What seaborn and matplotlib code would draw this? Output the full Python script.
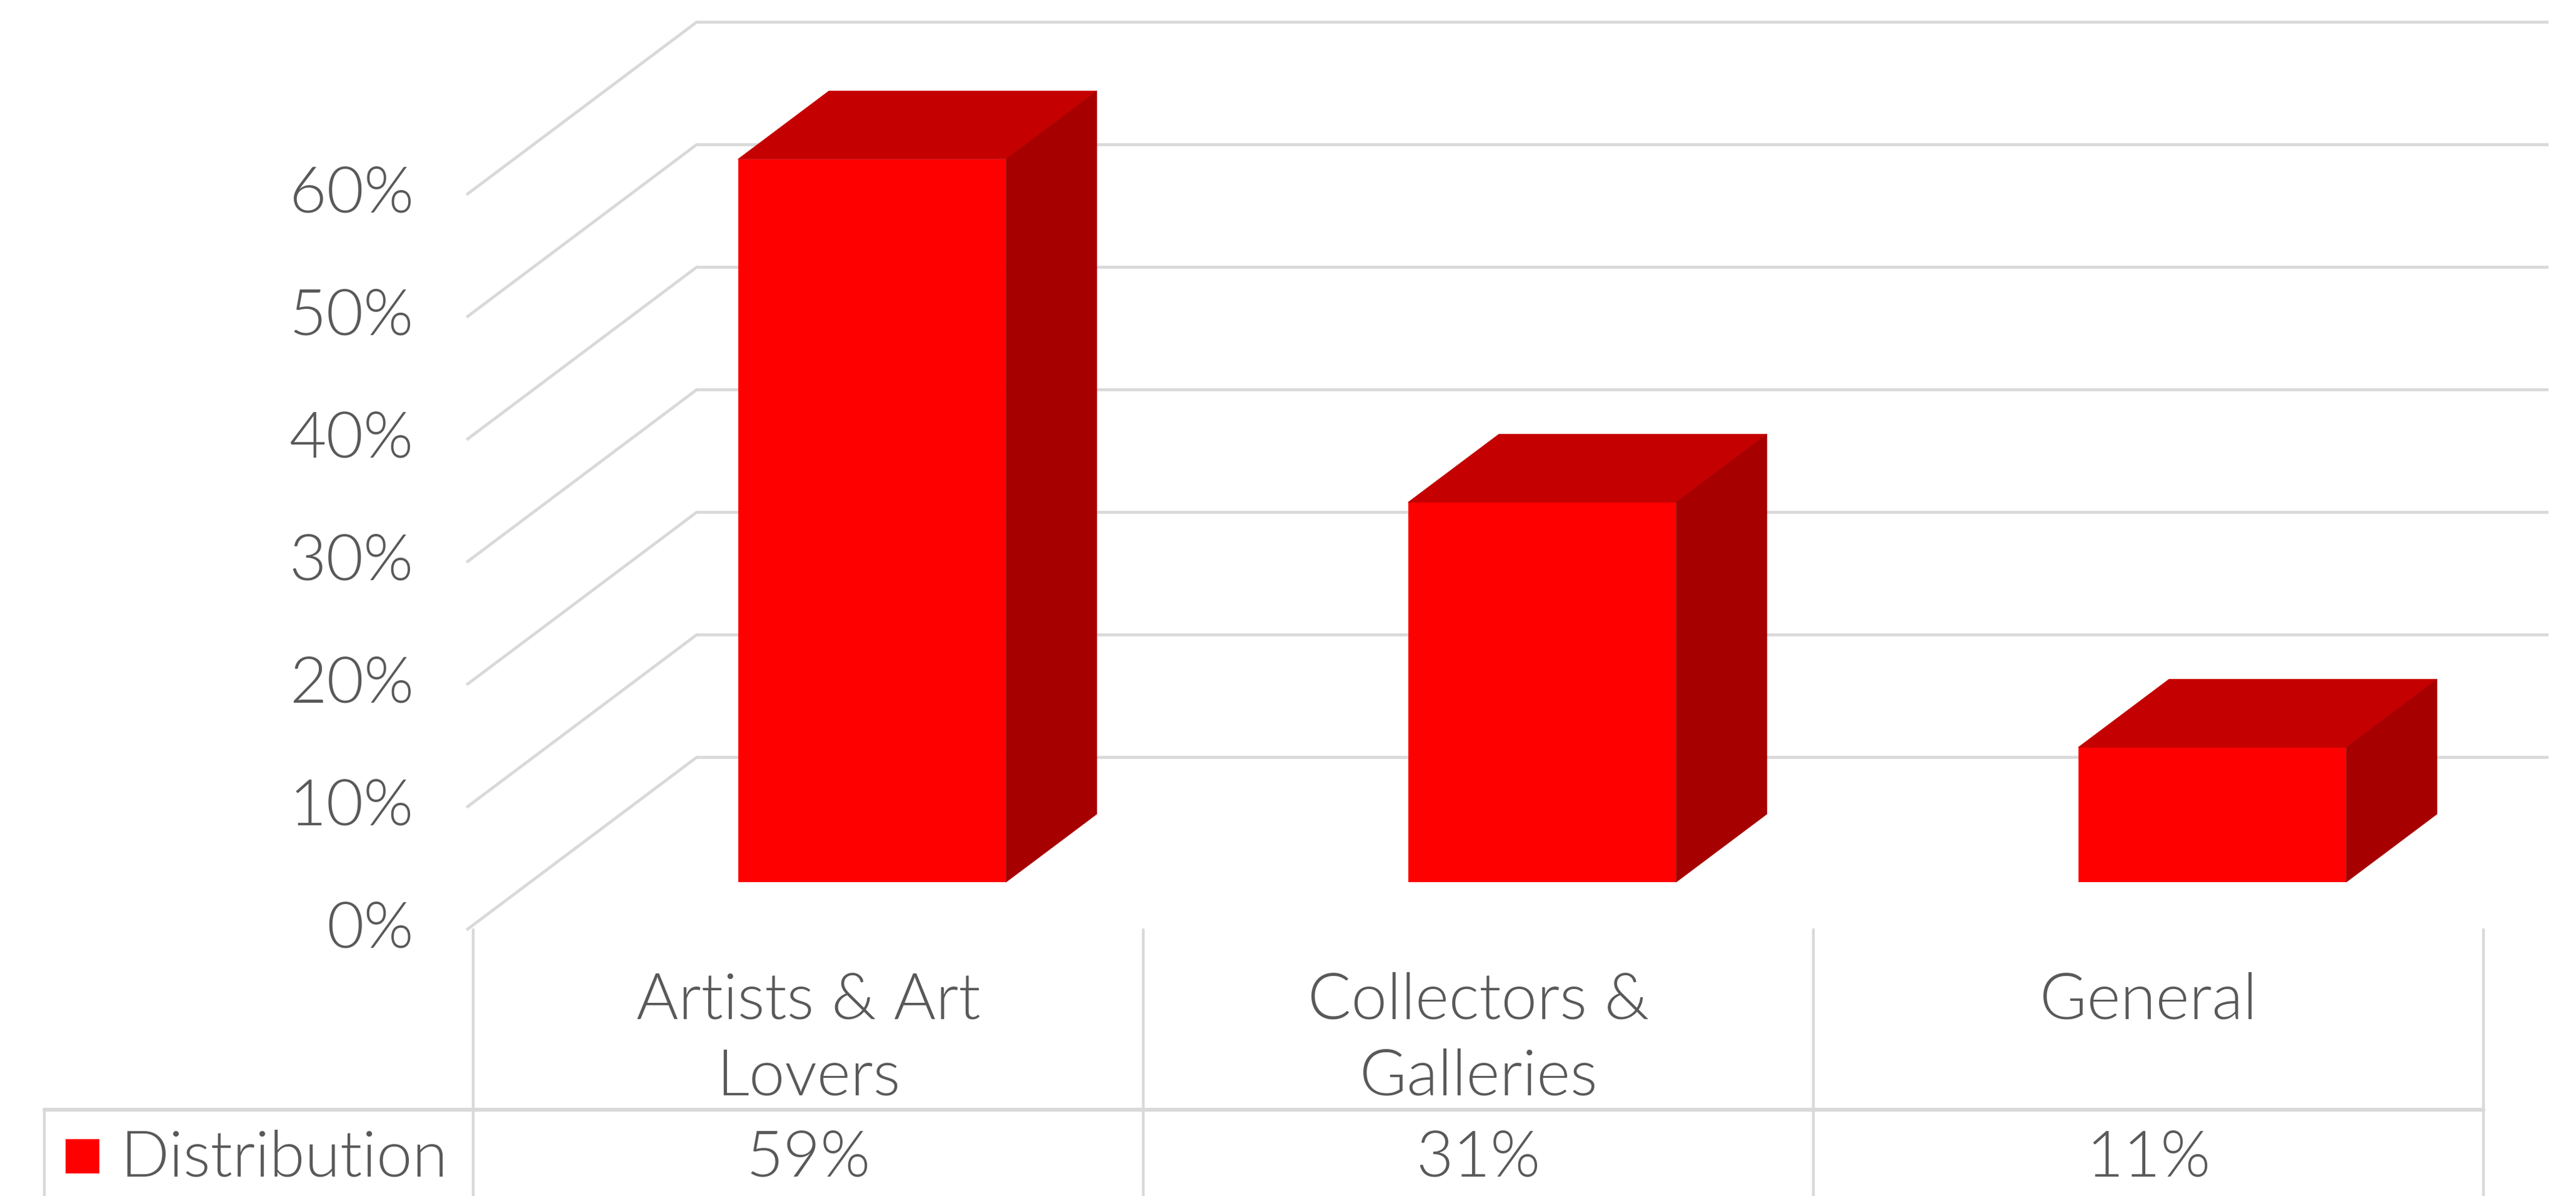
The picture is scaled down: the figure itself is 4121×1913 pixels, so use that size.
import matplotlib
matplotlib.use("Agg")
import matplotlib.pyplot as plt
from matplotlib.patches import Polygon, Rectangle
import seaborn as sns
import pandas as pd

# ---------------- data ----------------
categories = ["Artists & Art\nLovers", "Collectors &\nGalleries", "General"]
values = [59, 31, 11]
value_labels = ["59%", "31%", "11%"]
series_name = "Distribution"
y_ticks = [0, 10, 20, 30, 40, 50, 60]

# ---------------- style ----------------
W, H, DPI = 4121, 1913, 100
sns.set_theme(style="white")
plt.rcParams['font.family'] = ['Lato', 'DejaVu Sans']
TXT = "#595959"
GRID = "#D9D9D9"
FRONT = "#FF0000"
TOP = "#C40000"
SIDE = "#A60000"
FS = 74
FW = 300

fig = plt.figure(figsize=(W / DPI, H / DPI), dpi=DPI)
ax = fig.add_axes([0, 0, 1, 1])

# pixel -> data layout helpers
X0, PXC = 1395, 1072      # bar-front centre of first category, px per category
Y0, PXV = 1411, 19.6      # bar baseline, px per percent
def dx(px):
    return (px - X0) / PXC
def dy(py):
    return (Y0 - py) / PXV

# oblique depth projection
D0 = 0.277                 # depth of bar front faces
D1 = 0.672                 # depth of bar back faces
DEPTH_X = 368 / PXC
DEPTH_Y = 276 / PXV
def proj(u, v, d):
    return u + (d - D0) * DEPTH_X, v + (d - D0) * DEPTH_Y

df = pd.DataFrame({"cat": categories, "val": values})
sns.barplot(data=df, x="cat", y="val", color=FRONT, saturation=1, width=0.40,
            linewidth=0, ax=ax, zorder=3)

# 3D top and side faces, built from the library's bars
bx = (D1 - D0) * DEPTH_X
by = (D1 - D0) * DEPTH_Y
for p in list(ax.patches):
    x0, w, h = p.get_x(), p.get_width(), p.get_height()
    ax.add_patch(Polygon([(x0, h), (x0 + w, h), (x0 + w + bx, h + by), (x0 + bx, h + by)],
                         closed=True, facecolor=TOP, edgecolor=TOP, lw=0.5, zorder=3))
    ax.add_patch(Polygon([(x0 + w, 0), (x0 + w, h), (x0 + w + bx, h + by), (x0 + w + bx, by)],
                         closed=True, facecolor=SIDE, edgecolor=SIDE, lw=0.5, zorder=3))

# walls / gridlines
U_L = -0.51
BACK_R = dx(4077)
for v in y_ticks:
    p0 = proj(U_L, v, 0)
    p1 = proj(U_L, v, 1)
    ax.plot([p0[0], p1[0], BACK_R], [p0[1], p1[1], p1[1]], color=GRID, lw=3.4,
            zorder=1, solid_capstyle='butt', solid_joinstyle='miter')
    ax.text(dx(662), p0[1], f"{v}%", ha='right', va='center', fontsize=FS,
            color=TXT, fontweight=FW)

# data table
n = len(categories)
bounds = [proj(i - 0.5, 0, 0)[0] for i in range(n + 1)]
floor_y = proj(0, 0, 0)[1]
bottom = dy(H) - 5
for xb in bounds:
    ax.plot([xb, xb], [floor_y, bottom], color=GRID, lw=3.2, zorder=1)
row_y = dy(1775)
left_x = dx(71)
ax.plot([left_x, bounds[-1]], [row_y, row_y], color=GRID, lw=4.5, zorder=1)
ax.plot([left_x, left_x], [row_y, bottom], color=GRID, lw=3.2, zorder=1)

for i, (cat, lab) in enumerate(zip(categories, value_labels)):
    cx = proj(i, 0, 0)[0]
    for k, line in enumerate(cat.split("\n")):
        ax.text(cx, dy(1629 + 122 * k), line, ha='center', va='baseline',
                fontsize=FS, color=TXT, fontweight=FW)
    ax.text(cx, dy(1882), lab, ha='center', va='baseline', fontsize=FS,
            color=TXT, fontweight=FW)

ax.add_patch(Rectangle((dx(105), dy(1877)), dx(159) - dx(105), (1877 - 1822) / PXV,
                       facecolor=FRONT, edgecolor='none', zorder=3))
ax.text(dx(192), dy(1882), series_name, ha='left', va='baseline', fontsize=FS,
        color=TXT, fontweight=FW)

ax.set_xlim(dx(0), dx(W))
ax.set_ylim(dy(H), dy(0))
ax.axis('off')

fig.savefig("out.png", dpi=DPI)
